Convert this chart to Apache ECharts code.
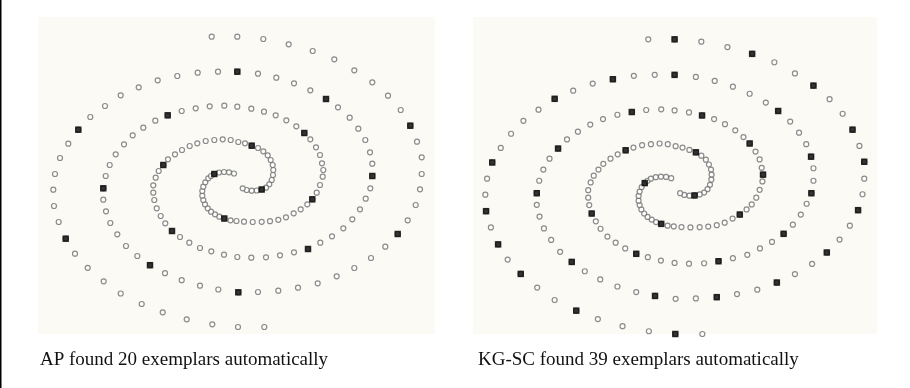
<!DOCTYPE html>
<html>
<head>
<meta charset="utf-8">
<script src="https://cdn.jsdelivr.net/npm/echarts@6/dist/echarts.min.js"></script>
<style>
html,body{margin:0;padding:0;background:#ffffff;}
#chart{width:910px;height:388px;}
</style>
</head>
<body>
<div id="chart"></div>
<script>
// Two interlocking spirals (same point set shown in both panels)
const spiral1 = [
[-26.3,145.3],[-0.7,145.3],[25.3,143],[50.7,137.7],[74.7,131],[96.3,122.7],[116.3,111.7],[134.3,99.7],
[150,86.3],[162.7,72],[172.3,56.3],[179,40.3],[183.7,24.7],[183.7,8],[182,-7.3],[177.7,-23],
[169.7,-38.3],[159.7,-52],[147.3,-64.7],[133,-76],[116.3,-86],[98.7,-94.3],[79.7,-101.3],[60,-105.7],
[40.3,-108.7],[20,-110],[0.3,-110.3],[-19.7,-107.5],[-38,-103.7],[-56.3,-98.2],[-73,-91.2],[-88,-83.2],
[-100.7,-74],[-112,-64],[-120.7,-52.3],[-127.7,-41],[-132,-29.3],[-134.7,-17.7],[-134.7,-6.3],[-132.3,6],
[-128.3,17],[-122.3,27.7],[-114,37.7],[-105.3,46.7],[-94.7,54.3],[-82.7,61.3],[-70.3,66.7],[-56.3,71],
[-42.3,73.7],[-28.3,75.7],[-13.7,76.3],[-0.7,75.3],[13.3,73.3],[26,70.3],[37.7,66.7],[48.3,61.7],
[58.3,55.7],[66.3,49],[72.3,42.7],[78,34.7],[82,27],[84,18.7],[85.3,12],[84.7,5.3],
[82,-3],[78.7,-10.7],[74.3,-17.3],[69.3,-22.3],[62.7,-27.3],[55.7,-31.3],[48,-35.3],[40.3,-37.8],
[32,-39.2],[23.7,-39.8],[14.7,-40],[6,-39.7],[-1.5,-39],[-7.5,-38.3],[-13.7,-36.5],[-18.7,-34.7],
[-23,-32.3],[-27,-29.7],[-30.3,-26.3],[-33,-22.3],[-34.7,-18],[-35.7,-13.7],[-35.7,-9],[-34.7,-4.7],
[-32.7,-0.3],[-29.7,3.7],[-27,6],[-23.7,8],[-19,9.5],[-14,10],[-9,9.7],[-4,8.5]
];
const spiral2 = [
[26.3,-145],[0,-145],[-25.7,-142.3],[-51.3,-137.3],[-75.3,-130.3],[-96.3,-122],[-117.3,-111.5],[-134.3,-99.3],
[-150.3,-85.8],[-163,-71.7],[-172.3,-56.7],[-179.3,-40],[-184,-24],[-184.7,-7.7],[-183,8],[-178,24],
[-169.7,38.3],[-159.7,52.3],[-147.7,65],[-133,76],[-117.3,86.7],[-99.3,94.7],[-80.3,101.7],[-60.7,106],
[-40.3,109.3],[-20,110.3],[-0.7,110.3],[20,108.3],[38.3,104.3],[56,98.7],[72.3,91.7],[88,83],
[100,74.7],[111.7,64.3],[120.3,53.3],[127.3,42],[132,29.7],[134.3,18.3],[134.3,6],[132.3,-6.3],
[127.7,-16.7],[122,-27.3],[114.3,-37.3],[105.3,-46.3],[94,-54.3],[82.3,-60.7],[70,-67],[56,-70.3],
[42,-73.3],[28,-75.3],[13.3,-75.7],[-0.7,-75],[-14,-72.7],[-26.7,-69.3],[-38,-66],[-48.7,-60.7],
[-58,-55],[-66,-49],[-72.7,-41.3],[-77.3,-34],[-81.3,-26.3],[-83.7,-18],[-84.7,-10.7],[-84.7,-3.3],
[-82.3,4.3],[-79.3,11],[-74.7,17],[-70,22.7],[-63,27.7],[-56,32],[-48.3,36],[-40.7,38.7],
[-32.3,41],[-23.7,42],[-15.3,42.7],[-7.3,42],[0.3,40],[7,38.7],[13.7,36.3],[20,34],
[25.3,30.7],[29.7,26.7],[32.7,22],[34.7,17],[35.3,12],[35,7],[33.7,2],[31.3,-2.3],
[28,-5.7],[23.7,-7.5],[18.7,-8.5],[13.7,-8.7],[8.7,-8],[4.7,-6.3]
];
// Exemplars chosen by AP (20)
const apExemplars = [
[-0.7,110.3],[-159.7,52.3],[-70.3,66.7],[-74.7,17],[88,83],[172.3,56.3],[66.3,49],[13.7,36.3],
[-134.7,-6.3],[-172.3,-56.7],[-23.7,8],[-13.7,-36.5],[-66,-49],[-88,-83.2],[23.7,-7.5],[74.3,-17.3],
[134.3,6],[159.7,-52],[70,-67],[0.3,-110.3]
];
// Exemplars chosen by KG-SC (39)
const kgscExemplars = [
[-0.7,145.3],[74.7,131],[-0.7,110.3],[-60.7,106],[134.3,99.7],[-117.3,86.7],[-42.3,73.7],[100,74.7],
[26,70.3],[172.3,56.3],[72.3,42.7],[-114,37.7],[-48.3,36],[20,34],[132,29.7],[-178,24],
[183.7,24.7],[85.3,12],[-29.7,3.7],[132.3,-6.3],[-134.7,-6.3],[18.7,-8.5],[-184,-24],[-81.3,-26.3],
[177.7,-23],[62.7,-27.3],[-13.7,-36.5],[105.3,-46.3],[-172.3,-56.7],[147.3,-64.7],[-38,-66],[42,-73.3],
[-100.7,-74],[-150.3,-85.8],[98.7,-94.3],[-19.7,-107.5],[40.3,-108.7],[-96.3,-122],[0,-145]
];
const captions = ['AP found 20 exemplars automatically', 'KG-SC found 39 exemplars automatically'];

const chart = echarts.init(document.getElementById('chart'), null, {renderer: 'canvas'});
const bg = '#fbfaf5';
const circleStyle = {color: '#ffffff', borderColor: '#6e6e6e', borderWidth: 1.2};
const squareStyle = {color: '#000000'};
function axisX(idx, min, max) {
  return {gridIndex: idx, type: 'value', min: min, max: max, show: false, splitLine: {show: false}};
}
function axisY(idx, min, max) {
  return {gridIndex: idx, type: 'value', min: min, max: max, show: false, splitLine: {show: false}};
}
const series = [];
[[spiral1, spiral2, apExemplars], [spiral1, spiral2, kgscExemplars]].forEach((set, g) => {
  [set[0], set[1]].forEach(pts => series.push({
    type: 'scatter', xAxisIndex: g, yAxisIndex: g, data: pts,
    symbol: 'circle', symbolSize: 5, itemStyle: circleStyle, silent: true, z: 2
  }));
  series.push({
    type: 'scatter', xAxisIndex: g, yAxisIndex: g, data: set[2],
    symbol: 'rect', symbolSize: 6.5, itemStyle: squareStyle, silent: true, z: 3
  });
});
const capStyle = {fontFamily: 'Liberation Serif', fontSize: 19, fontWeight: 'normal', color: '#111'};
chart.setOption({
  animation: false,
  backgroundColor: '#ffffff',
  grid: [
    {left: 38, top: 17, width: 397, height: 317, show: true, backgroundColor: bg, borderWidth: 0},
    {left: 473, top: 17, width: 404, height: 317, show: true, backgroundColor: bg, borderWidth: 0}
  ],
  xAxis: [axisX(0, -200, 197), axisX(1, -196.7, 196.1)],
  yAxis: [axisY(0, -152, 165), axisY(1, -145, 167.3)],
  title: [
    {text: captions[0], left: 40, top: 351, padding: 0, textStyle: capStyle},
    {text: captions[1], left: 478, top: 351, padding: 0, textStyle: capStyle}
  ],
  graphic: [
    {type: 'line', shape: {x1: 0.75, y1: 0, x2: 0.75, y2: 388}, style: {stroke: '#000', lineWidth: 1.5}}
  ],
  series: series
});
</script>
</body>
</html>
